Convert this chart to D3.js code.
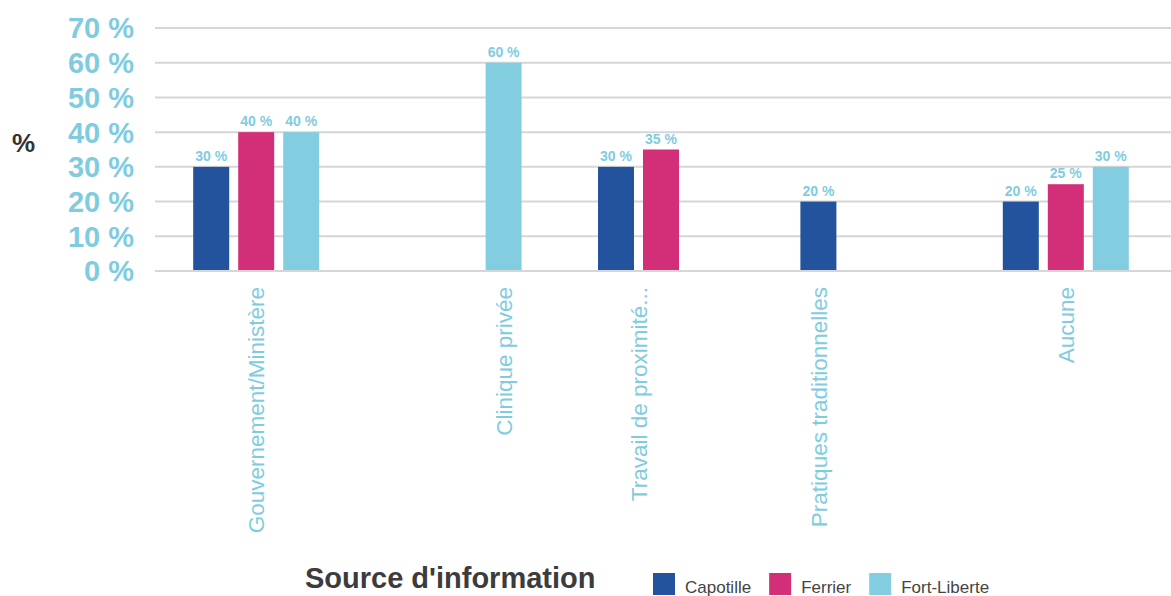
<!DOCTYPE html>
<html>
<head>
<meta charset="utf-8">
<title>Source d'information</title>
<script src="https://cdnjs.cloudflare.com/ajax/libs/d3/7.8.5/d3.min.js"></script>
<style>
body { margin: 0; background: #fff; font-family: "Liberation Sans", Arial, sans-serif; }
.grid line { stroke: #d6d6d6; stroke-width: 2px; }
.ytick { fill: #7fcce0; font: bold 29px "Liberation Sans", Arial, sans-serif; }
.xlab { fill: #7fcce0; font: 22.5px "Liberation Sans", Arial, sans-serif; }
.vlab { fill: #7fcce0; font: bold 14px "Liberation Sans", Arial, sans-serif; }
.legtext { fill: #444; font: 17px "Liberation Sans", Arial, sans-serif; }
</style>
</head>
<body>
<script>
// data
var categories = ["Gouvernement/Ministère", "Clinique privée", "Travail de proximité...", "Pratiques traditionnelles", "Aucune"];
var series = ["Capotille", "Ferrier", "Fort-Liberte"];
var capotille = [30, null, 30, 20, 20];
var ferrier = [40, null, 35, null, 25];
var fortLiberte = [40, 60, null, null, 30];
var yTicks = [0, 10, 20, 30, 40, 50, 60, 70];
var colors = ["#22539c", "#d32e78", "#83cde1"];

var values = [capotille, ferrier, fortLiberte];
var width = 1171, height = 596;

var svg = d3.select("body").append("svg")
    .attr("width", width)
    .attr("height", height);

var x0 = d3.scaleBand().domain(categories).range([155, 1167]).padding(0);
var x1 = d3.scaleBand().domain(series).range([-63, 63]).paddingInner(0.2);
var y = d3.scaleLinear().domain([0, 70]).range([271, 28]);
var color = d3.scaleOrdinal().domain(series).range(colors);

// gridlines
svg.append("g").attr("class", "grid")
  .selectAll("line")
  .data(yTicks)
  .enter().append("line")
    .attr("x1", 155)
    .attr("x2", width)
    .attr("y1", function(d) { return y(d); })
    .attr("y2", function(d) { return y(d); });

// y tick labels
svg.append("g")
  .selectAll("text")
  .data(yTicks)
  .enter().append("text")
    .attr("class", "ytick")
    .attr("x", 134)
    .attr("y", function(d) { return y(d); })
    .attr("dy", "0.36em")
    .style("text-anchor", "end")
    .text(function(d) { return d + " %"; });

svg.append("text")
    .attr("x", 12)
    .attr("y", 152)
    .style("font", "bold 26px 'Liberation Sans', Arial, sans-serif")
    .style("fill", "#333")
    .text("%");

// flatten to bar records
var bars = [];
categories.forEach(function(c, i) {
  series.forEach(function(s, j) {
    if (values[j][i] != null) bars.push({cat: c, ser: s, val: values[j][i]});
  });
});

function barX(d) { return x0(d.cat) + x0.bandwidth() / 2 + x1(d.ser); }

svg.append("g")
  .selectAll("rect")
  .data(bars)
  .enter().append("rect")
    .attr("x", barX)
    .attr("y", function(d) { return y(d.val); })
    .attr("width", x1.bandwidth())
    .attr("height", function(d) { return y(0) - 1 - y(d.val); })
    .style("fill", function(d) { return color(d.ser); });

svg.append("g")
  .selectAll("text")
  .data(bars)
  .enter().append("text")
    .attr("class", "vlab")
    .attr("x", function(d) { return barX(d) + x1.bandwidth() / 2; })
    .attr("y", function(d) { return y(d.val) - 6; })
    .style("text-anchor", "middle")
    .text(function(d) { return Math.round(d.val) + " %"; });

// category labels, centred under the bars that exist
svg.append("g")
  .selectAll("text")
  .data(categories)
  .enter().append("text")
    .attr("class", "xlab")
    .attr("transform", function(c) {
      var xs = bars.filter(function(b) { return b.cat === c; })
                   .map(function(b) { return barX(b) + x1.bandwidth() / 2; });
      var cx = (d3.min(xs) + d3.max(xs)) / 2;
      return "translate(" + cx + ",287) rotate(-90)";
    })
    .attr("dy", "0.36em")
    .style("text-anchor", "end")
    .text(function(c) { return c; });

// legend
svg.append("text")
    .attr("x", 305)
    .attr("y", 588)
    .style("font", "bold 29px 'Liberation Sans', Arial, sans-serif")
    .style("fill", "#3c3c3c")
    .text("Source d'information");

var lx = 653;
series.forEach(function(s) {
  var g = svg.append("g").attr("transform", "translate(" + lx + ",573)");
  g.append("rect").attr("width", 22).attr("height", 22).style("fill", color(s));
  var t = g.append("text").attr("class", "legtext").attr("x", 32).attr("y", 20).text(s);
  lx += 32 + t.node().getComputedTextLength() + 18;
});
</script>
</body>
</html>
